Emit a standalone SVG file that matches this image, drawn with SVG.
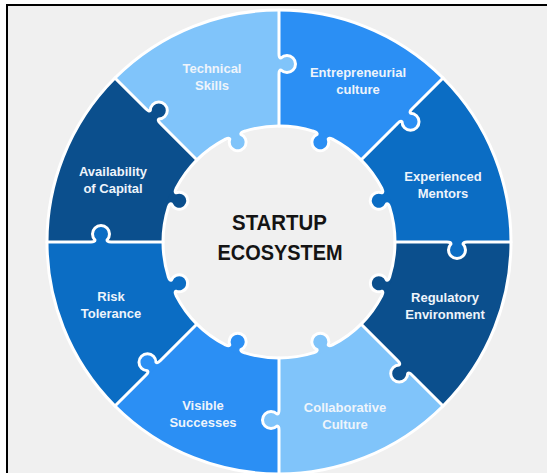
<svg xmlns="http://www.w3.org/2000/svg" xmlns:xlink="http://www.w3.org/1999/xlink" width="547" height="473" viewBox="0 0 547 473">
<style>
.c1{fill:#80c4fa}
.c2{fill:#2b8ff4}
.c3{fill:#0b6dc4}
.c4{fill:#0b4f8d}
.ol{fill:none;stroke:#ffffff;stroke-width:3;stroke-linejoin:round;stroke-linecap:round}
.lbl{font-family:"Liberation Sans",Arial,sans-serif;font-weight:bold;font-size:13px;fill:#eef4fb;text-anchor:middle}
.ttl{font-family:"Liberation Sans",Arial,sans-serif;font-weight:bold;font-size:22px;fill:#141414;text-anchor:middle}
</style>
<defs>
<path id="wedge" d="M0,-232 A232,232 0 0 1 164.05,-164.05 L82.02,-82.02 A116,116 0 0 0 0,-116 Z"/>
<path id="inTabFill" d="M-10,-119 L-10,-115.57 Q-6,-115.8 -6,-114.02 A8.5,8.5 0 1 0 6,-114.02 Q6,-115.8 10,-115.57 L10,-119 Z"/>
<path id="inTabLine" d="M-10,-115.57 Q-6,-115.8 -6,-114.02 A8.5,8.5 0 1 0 6,-114.02 Q6,-115.8 10,-115.57"/>
<path id="divTabFill" d="M-2,-168 L0,-168 Q0,-172 1.98,-172 A8.5,8.5 0 1 0 1.98,-184 Q0,-184 0,-188 L-2,-188 Z"/>
<path id="divLine" d="M0,-116 L0,-168 Q0,-172 1.98,-172 A8.5,8.5 0 1 0 1.98,-184 Q0,-184 0,-188 L0,-232"/>
</defs>
<rect x="0" y="0" width="547" height="473" fill="#ffffff"/>
<rect x="8" y="6" width="539" height="467" fill="#f0f0f0"/>
<path d="M6,5 H547 M7,4 V473" stroke="#000000" stroke-width="2" fill="none"/>

<g id="entrepreneurial-culture">
<use xlink:href="#wedge" class="c2" transform="translate(279 242) rotate(0)"/>
<use xlink:href="#inTabFill" class="c2" transform="translate(279 242) rotate(22.5)"/>
<text class="lbl" x="358" y="77">Entrepreneurial</text>
<text class="lbl" x="358" y="94">culture</text>
</g>
<g id="experienced-mentors">
<use xlink:href="#wedge" class="c3" transform="translate(279 242) rotate(45)"/>
<use xlink:href="#inTabFill" class="c3" transform="translate(279 242) rotate(67.5)"/>
<text class="lbl" x="443" y="181">Experienced</text>
<text class="lbl" x="443" y="198">Mentors</text>
</g>
<g id="regulatory-environment">
<use xlink:href="#wedge" class="c4" transform="translate(279 242) rotate(90)"/>
<use xlink:href="#inTabFill" class="c4" transform="translate(279 242) rotate(112.5)"/>
<text class="lbl" x="445" y="302">Regulatory</text>
<text class="lbl" x="445" y="319">Environment</text>
</g>
<g id="collaborative-culture">
<use xlink:href="#wedge" class="c1" transform="translate(279 242) rotate(135)"/>
<use xlink:href="#inTabFill" class="c1" transform="translate(279 242) rotate(157.5)"/>
<text class="lbl" x="345" y="412">Collaborative</text>
<text class="lbl" x="345" y="429">Culture</text>
</g>
<g id="visible-successes">
<use xlink:href="#wedge" class="c2" transform="translate(279 242) rotate(180)"/>
<use xlink:href="#inTabFill" class="c2" transform="translate(279 242) rotate(202.5)"/>
<text class="lbl" x="203" y="410">Visible</text>
<text class="lbl" x="203" y="427">Successes</text>
</g>
<g id="risk-tolerance">
<use xlink:href="#wedge" class="c3" transform="translate(279 242) rotate(225)"/>
<use xlink:href="#inTabFill" class="c3" transform="translate(279 242) rotate(247.5)"/>
<text class="lbl" x="111" y="301">Risk</text>
<text class="lbl" x="111" y="318">Tolerance</text>
</g>
<g id="availability-of-capital">
<use xlink:href="#wedge" class="c4" transform="translate(279 242) rotate(270)"/>
<use xlink:href="#inTabFill" class="c4" transform="translate(279 242) rotate(292.5)"/>
<text class="lbl" x="113" y="176">Availability</text>
<text class="lbl" x="113" y="193">of Capital</text>
</g>
<g id="technical-skills">
<use xlink:href="#wedge" class="c1" transform="translate(279 242) rotate(315)"/>
<use xlink:href="#inTabFill" class="c1" transform="translate(279 242) rotate(337.5)"/>
<text class="lbl" x="212" y="73">Technical</text>
<text class="lbl" x="212" y="90">Skills</text>
</g>

<g id="connectors">
<use xlink:href="#divTabFill" class="c1" transform="translate(279 242) rotate(0)"/>
<use xlink:href="#divTabFill" class="c2" transform="translate(279 242) rotate(45)"/>
<use xlink:href="#divTabFill" class="c3" transform="translate(279 242) rotate(90)"/>
<use xlink:href="#divTabFill" class="c4" transform="translate(279 242) rotate(135)"/>
<use xlink:href="#divTabFill" class="c1" transform="translate(279 242) rotate(180)"/>
<use xlink:href="#divTabFill" class="c2" transform="translate(279 242) rotate(225)"/>
<use xlink:href="#divTabFill" class="c3" transform="translate(279 242) rotate(270)"/>
<use xlink:href="#divTabFill" class="c4" transform="translate(279 242) rotate(315)"/>
<circle class="ol" cx="279" cy="242" r="232"/>
<circle class="ol" cx="279" cy="242" r="116" pathLength="360" stroke-dasharray="35.1 9.9" stroke-dashoffset="17.55" style="stroke-linecap:butt"/>
<use xlink:href="#inTabLine" class="ol" transform="translate(279 242) rotate(22.5)"/>
<use xlink:href="#inTabLine" class="ol" transform="translate(279 242) rotate(67.5)"/>
<use xlink:href="#inTabLine" class="ol" transform="translate(279 242) rotate(112.5)"/>
<use xlink:href="#inTabLine" class="ol" transform="translate(279 242) rotate(157.5)"/>
<use xlink:href="#inTabLine" class="ol" transform="translate(279 242) rotate(202.5)"/>
<use xlink:href="#inTabLine" class="ol" transform="translate(279 242) rotate(247.5)"/>
<use xlink:href="#inTabLine" class="ol" transform="translate(279 242) rotate(292.5)"/>
<use xlink:href="#inTabLine" class="ol" transform="translate(279 242) rotate(337.5)"/>
<use xlink:href="#divLine" class="ol" transform="translate(279 242) rotate(0)"/>
<use xlink:href="#divLine" class="ol" transform="translate(279 242) rotate(45)"/>
<use xlink:href="#divLine" class="ol" transform="translate(279 242) rotate(90)"/>
<use xlink:href="#divLine" class="ol" transform="translate(279 242) rotate(135)"/>
<use xlink:href="#divLine" class="ol" transform="translate(279 242) rotate(180)"/>
<use xlink:href="#divLine" class="ol" transform="translate(279 242) rotate(225)"/>
<use xlink:href="#divLine" class="ol" transform="translate(279 242) rotate(270)"/>
<use xlink:href="#divLine" class="ol" transform="translate(279 242) rotate(315)"/>
</g>

<g id="startup-ecosystem">
<text class="ttl" x="279.5" y="230" textLength="95" lengthAdjust="spacingAndGlyphs">STARTUP</text>
<text class="ttl" x="280" y="260" textLength="125" lengthAdjust="spacingAndGlyphs">ECOSYSTEM</text>
</g>
</svg>
